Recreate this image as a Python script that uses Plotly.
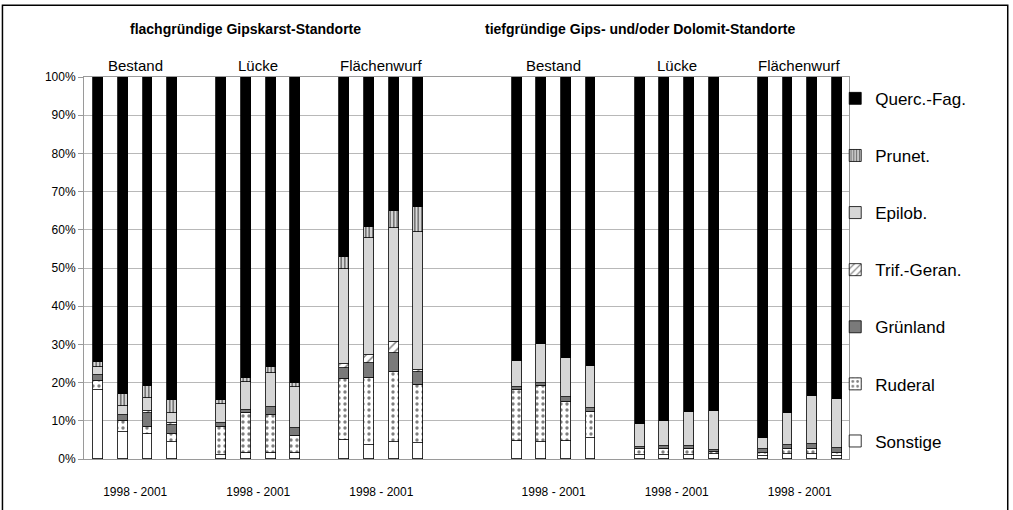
import plotly.graph_objects as go

# ---------------- data ----------------
groups = ["Bestand", "Lücke", "Flächenwurf", "Bestand", "Lücke", "Flächenwurf"]
period_labels = ["1998 - 2001"] * 6
section_titles = ["flachgründige Gipskarst-Standorte",
                  "tiefgründige Gips- und/oder Dolomit-Standorte"]
categories = ["Sonstige", "Ruderal", "Grünland", "Trif.-Geran.", "Epilob.", "Prunet.", "Querc.-Fag."]

sonstige = [18, 7, 6.5, 4.5,   1, 1.5, 1.5, 1.5,   5, 3.7, 4.5, 4.1,
            4.8, 4.5, 4.8, 5.4,   1, 1, 1, 1.3,   0.8, 1.2, 1.2, 0.8]
ruderal = [2.5, 3, 2, 2,   7.5, 10.5, 10, 4.5,   16, 17.4, 18.4, 15.3,
           13.3, 14.6, 10.2, 7,   1.5, 1.6, 1.6, 0.5,   0.7, 1.5, 1.5, 0.7]
gruenland = [1.5, 1.5, 3.5, 2.5,   1, 0.8, 2.2, 2,   2.8, 4, 4.8, 3.5,
             0.8, 0.9, 1.3, 0.9,   0.7, 0.8, 0.8, 0.6,   1, 1, 1.1, 1.3]
trif = [0, 0, 0.5, 0.5,   0, 0, 0, 0,   1.2, 2, 3, 0.5,
        0, 0, 0, 0,   0, 0, 0, 0,   0, 0, 0, 0]
epilob = [2, 2.5, 3.5, 2.5,   5, 7.4, 8.9, 10.9,   24.7, 30.8, 29.7, 36.1,
          6.8, 10.1, 10.1, 11,   6, 6.6, 8.8, 10.2,   2.9, 8.3, 12.8, 12.8]
prunet = [1.5, 3, 3, 3.5,   1, 1.1, 1.4, 1.1,   3.3, 2.8, 4.6, 6.5,
          0, 0, 0, 0,   0, 0, 0, 0,   0, 0, 0, 0]
querc = [74.5, 83, 81, 84.5,   84.5, 78.7, 76, 80,   47, 39.3, 35, 34,
         74.3, 69.9, 73.6, 75.7,   90.8, 90, 87.8, 87.4,   94.6, 88, 83.4, 84.4]

series = [sonstige, ruderal, gruenland, trif, epilob, prunet, querc]

# ---------------- layout helpers ----------------
group_starts = [0, 5, 10, 17, 22, 27]
x_pos = [s + i for s in group_starts for i in range(4)]
group_centers = [s + 1.5 for s in group_starts]

styles = {
    "Sonstige": dict(color="white"),
    "Ruderal": dict(color="white", pattern=dict(shape=".", fgcolor="black", bgcolor="white",
                                                 size=6, solidity=0.25, fillmode="overlay")),
    "Grünland": dict(color="#7a7a7a"),
    "Trif.-Geran.": dict(color="white", pattern=dict(shape="/", fgcolor="black", bgcolor="white",
                                                      size=6, solidity=0.25, fillmode="overlay")),
    "Epilob.": dict(color="#d6d6d6"),
    "Prunet.": dict(color="#cfcfcf", pattern=dict(shape="|", fgcolor="black", bgcolor="#d8d8d8",
                                                   size=3.5, solidity=0.45, fillmode="overlay")),
    "Querc.-Fag.": dict(color="black"),
}

n = len(categories)
fig = go.Figure()
for i, (name, vals) in enumerate(zip(categories, series)):
    m = dict(styles[name])
    m["line"] = dict(color="black", width=0.8)
    fig.add_trace(go.Bar(
        x=x_pos, y=[v if v else None for v in vals], name=name, width=0.4,
        marker=m, legendgroup=name, legendrank=n - i,
    ))

font_fam = "Liberation Sans, Arial, sans-serif"
annotations = []
for xc, g in zip(group_centers, groups):
    annotations.append(dict(x=xc, y=1.0, xref="x", yref="paper", text=g, showarrow=False,
                            yanchor="bottom", yshift=1,
                            font=dict(size=15, color="black", family=font_fam)))
for xp, t in zip([0.211, 0.728], section_titles):
    annotations.append(dict(x=xp, y=1.125, xref="paper", yref="paper", text=f"<b>{t}</b>",
                            showarrow=False, xanchor="center", yanchor="middle",
                            font=dict(size=14, color="black", family=font_fam)))

fig.update_layout(
    width=1013, height=510,
    margin=dict(l=84, r=164, t=77, b=51),
    paper_bgcolor="white", plot_bgcolor="white",
    barmode="stack", bargap=0,
    font=dict(family=font_fam, color="black"),
    showlegend=True,
    legend=dict(x=0.982, xanchor="left", y=0.99, yanchor="top",
                traceorder="grouped", tracegroupgap=32,
                bgcolor="rgba(0,0,0,0)",
                font=dict(size=17, color="black"), itemwidth=30),
    annotations=annotations,
    shapes=[dict(type="rect", xref="paper", yref="paper",
                 x0=-0.1066, x1=1.2075, y0=-0.15, y1=1.188,
                 line=dict(color="black", width=1.5))],
)
fig.update_xaxes(range=[-0.58, 30.5], tickvals=group_centers, ticktext=period_labels,
                 ticks="", ticklabelstandoff=22, tickfont=dict(size=12),
                 showgrid=False, showline=True, linecolor="#9a9a9a", mirror=True, zeroline=False)
fig.update_yaxes(range=[0, 100], tickvals=list(range(0, 101, 10)),
                 ticktext=[f"{v}%" for v in range(0, 101, 10)], tickfont=dict(size=12),
                 ticks="outside", ticklen=5, tickcolor="#9a9a9a",
                 showgrid=True, gridcolor="#b8b8b8", gridwidth=1,
                 showline=True, linecolor="#9a9a9a", mirror=True, zeroline=False)

fig.write_html("out.html", config={"displayModeBar": False},
               post_script="document.body.style.margin='0';document.body.style.overflow='hidden';")
